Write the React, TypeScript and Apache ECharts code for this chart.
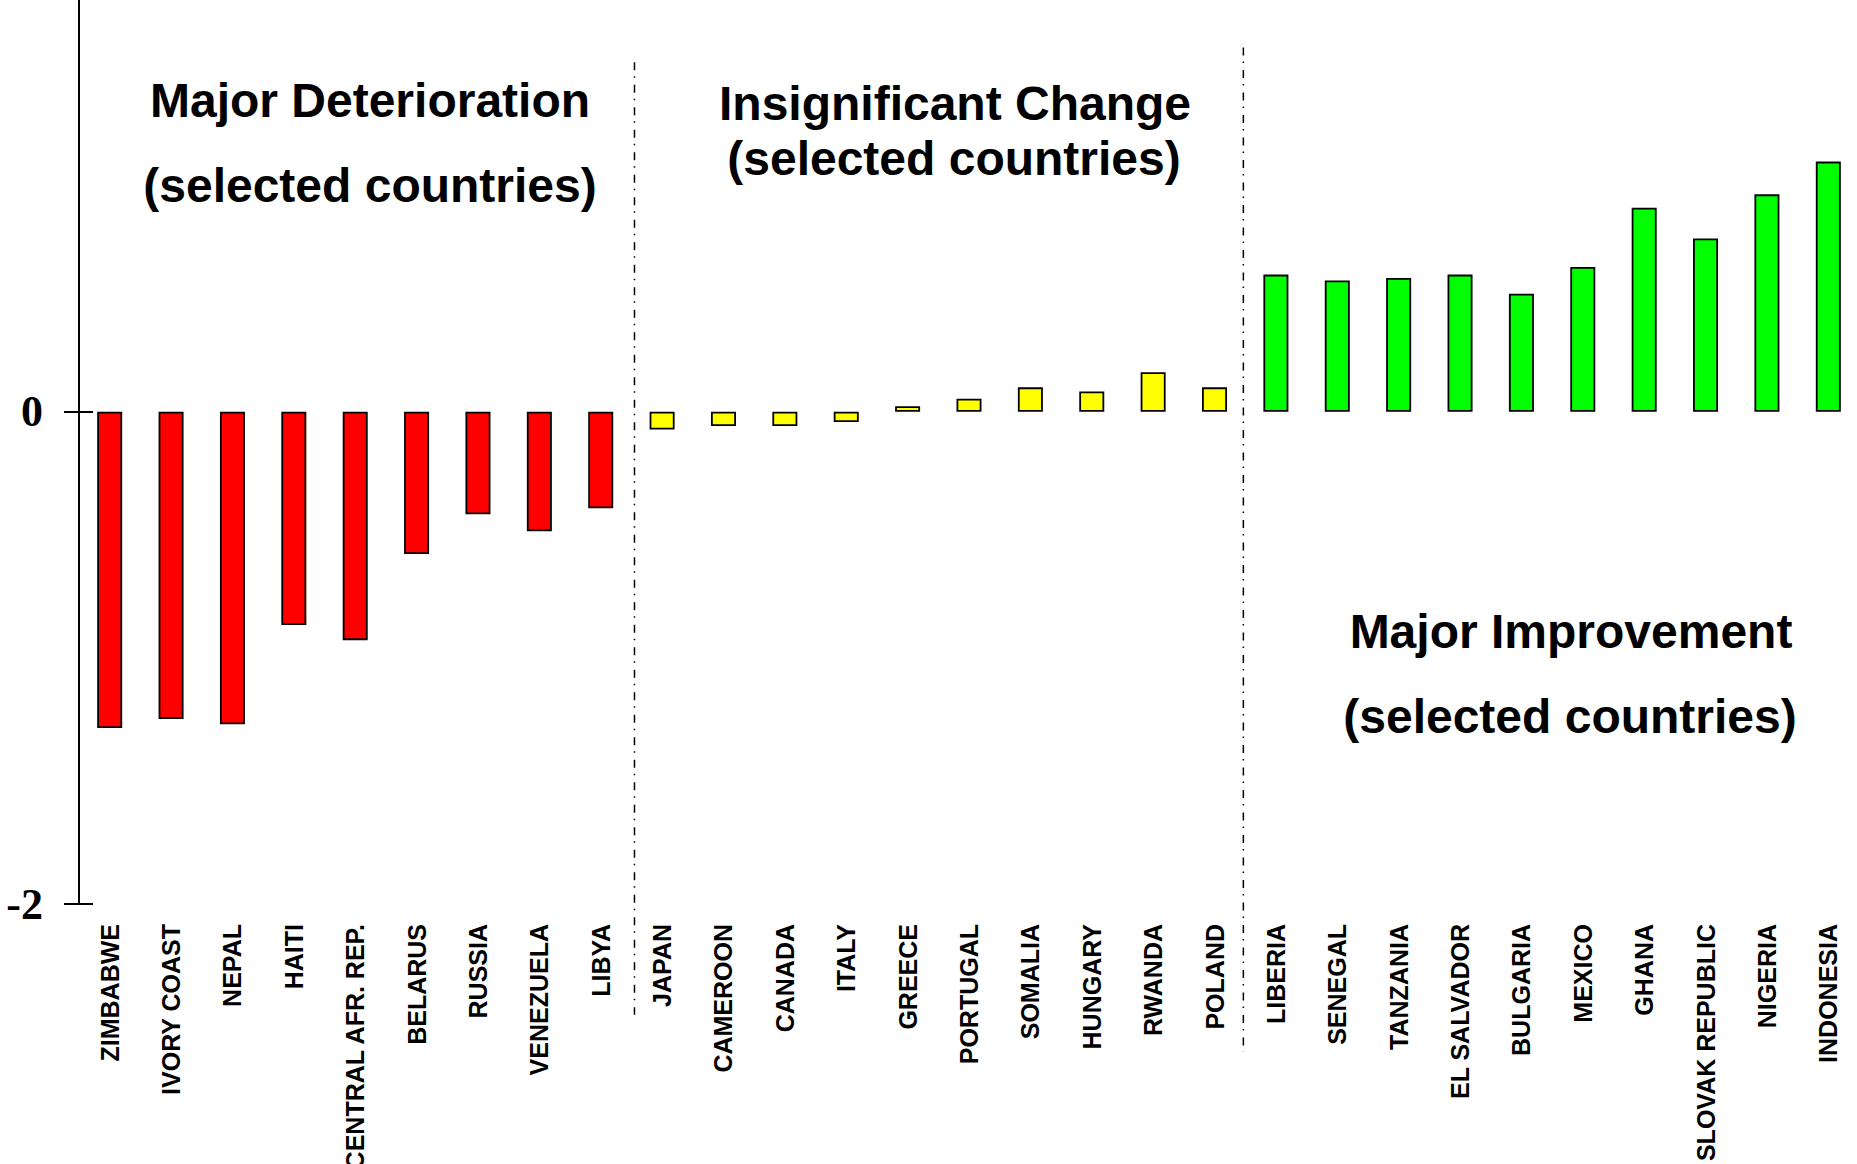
import React, { useEffect, useRef } from "react";
import * as echarts from "echarts";

const countries = [
  "ZIMBABWE", "IVORY COAST", "NEPAL", "HAITI", "CENTRAL AFR. REP.", "BELARUS", "RUSSIA", "VENEZUELA", "LIBYA",
  "JAPAN", "CAMEROON", "CANADA", "ITALY", "GREECE", "PORTUGAL", "SOMALIA", "HUNGARY", "RWANDA", "POLAND",
  "LIBERIA", "SENEGAL", "TANZANIA", "EL SALVADOR", "BULGARIA", "MEXICO", "GHANA", "SLOVAK REPUBLIC", "NIGERIA", "INDONESIA",
];

const changeValues = [
  -1.285, -1.248, -1.27, -0.867, -0.928, -0.578, -0.417, -0.486, -0.392,
  -0.072, -0.058, -0.058, -0.042, 0.022, 0.053, 0.099, 0.082, 0.16, 0.099,
  0.557, 0.533, 0.543, 0.557, 0.479, 0.588, 0.829, 0.704, 0.883, 1.016,
];

const groups = [
  0, 0, 0, 0, 0, 0, 0, 0, 0,
  1, 1, 1, 1, 1, 1, 1, 1, 1, 1,
  2, 2, 2, 2, 2, 2, 2, 2, 2, 2,
];

const groupColors = ["#FF0000", "#FFFF00", "#00FF00"];

const yTickValues = [-2, 0];

// dividers: category index after which the line is drawn, small shift (in category widths), top value, bottom value
const dividerAfter = [8, 18];
const dividerShift = [0.05, -0.03];
const dividerTop = [1.42, 1.48];
const dividerBottom = [-2.45, -2.6];

const titleLines = [
  { text: "Major Deterioration", x: 370, y: 100 },
  { text: "(selected countries)", x: 370, y: 185 },
  { text: "Insignificant Change", x: 955, y: 103 },
  { text: "(selected countries)", x: 954, y: 158 },
  { text: "Major Improvement", x: 1571, y: 631 },
  { text: "(selected countries)", x: 1570, y: 716 },
];

const Y_MIN = -2;
const Y_MAX = 1.6726;

export default function App() {
  const ref = useRef<HTMLDivElement>(null);
  useEffect(() => {
    if (!ref.current) return;
    const chart = echarts.init(ref.current, null, { renderer: "svg" });
    const barData = changeValues.map((v, i) => ({
      value: v,
      itemStyle: { color: groupColors[groups[i]] },
    }));
    const dividerData = dividerAfter.map((idx, i) => [idx, dividerTop[i], dividerBottom[i], dividerShift[i]]);
    chart.setOption({
      animation: false,
      backgroundColor: "#ffffff",
      grid: { left: 79, right: -2, top: 0, bottom: 260, containLabel: false, outerBoundsMode: "none" },
      xAxis: {
        type: "category",
        data: countries,
        position: "bottom",
        axisLine: { show: false },
        axisTick: { show: false },
        splitLine: { show: false },
        axisLabel: {
          rotate: 90,
          interval: 0,
          margin: 20,
          color: "#000",
          fontFamily: '"Liberation Sans", Arial, sans-serif',
          fontWeight: "bold",
          fontSize: 25,
        },
      },
      yAxis: [
        {
          type: "value",
          min: Y_MIN,
          max: Y_MAX,
          interval: 2,
          position: "left",
          splitLine: { show: false },
          axisLine: { show: true, onZero: false, lineStyle: { color: "#000", width: 2 } },
          axisTick: {
            show: true,
            inside: false,
            length: 15,
            customValues: yTickValues,
            lineStyle: { color: "#000", width: 2 },
          },
          axisLabel: {
            customValues: yTickValues,
            margin: 36,
            color: "#000",
            fontFamily: '"Liberation Serif", "Times New Roman", serif',
            fontWeight: "bold",
            fontSize: 44,
            formatter: (v: number) => (v === 0 || v === -2 ? String(v) : ""),
          },
        },
        {
          type: "value",
          min: Y_MIN,
          max: Y_MAX,
          interval: 2,
          position: "left",
          splitLine: { show: false },
          axisLine: { show: false },
          axisLabel: { show: false },
          axisTick: {
            show: true,
            inside: true,
            length: 14,
            customValues: yTickValues,
            lineStyle: { color: "#000", width: 2 },
          },
        },
      ],
      series: [
        {
          type: "bar",
          data: barData,
          barWidth: 25,
          itemStyle: { borderColor: "#000", borderWidth: 1.8 },
        },
        {
          type: "custom",
          data: dividerData,
          encode: { x: 0, y: 1 },
          clip: false,
          silent: true,
          renderItem: (params: any, api: any) => {
            const idx = api.value(0);
            const p = api.coord([idx, api.value(1)]);
            const q = api.coord([idx, api.value(2)]);
            const w = api.size([1, 0])[0];
            const x = p[0] + w * (0.5 + api.value(3));
            return {
              type: "line",
              shape: { x1: x, y1: p[1], x2: x, y2: q[1] },
              style: { stroke: "#000", lineWidth: 1.5, lineDash: [8, 6, 1.5, 7] },
            };
          },
        },
      ],
      graphic: titleLines.map((t) => ({
        type: "text",
        x: t.x,
        y: t.y,
        style: {
          text: t.text,
          fill: "#000",
          font: 'bold 48px "Liberation Sans", Arial, sans-serif',
          textAlign: "center",
          textVerticalAlign: "middle",
        },
      })),
    });
    return () => chart.dispose();
  }, []);
  return (
    <div
      ref={ref}
      style={{ position: "absolute", left: 0, top: 0, width: 1857, height: 1164, background: "#fff" }}
    />
  );
}
